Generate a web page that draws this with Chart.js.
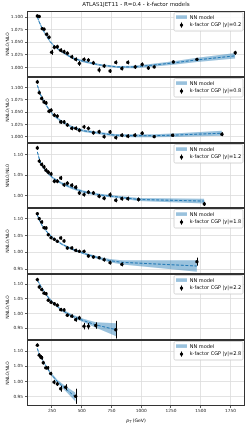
<!DOCTYPE html>
<html>
<head>
<meta charset="utf-8">
<script src="https://cdn.jsdelivr.net/npm/chart.js@4/dist/chart.umd.min.js"></script>
<style>
body { margin: 0; background: #fff; width: 250px; height: 426px; position: relative; overflow: hidden; }
canvas { position: absolute; left: 0; }
</style>
</head>
<body>
<canvas id="c0" width="250" height="77" style="top:0px"></canvas>
<canvas id="c1" width="250" height="66" style="top:77px"></canvas>
<canvas id="c2" width="250" height="65" style="top:143px"></canvas>
<canvas id="c3" width="250" height="66" style="top:208px"></canvas>
<canvas id="c4" width="250" height="66" style="top:274px"></canvas>
<canvas id="c5" width="250" height="86" style="top:340px"></canvas>
<script>
// k-factor CGP points, per rapidity bin
const pt_y02 = [127,143,168,183,205,225,247,270,295,323,351,379,416,449,480,519,556,598,646,688,738,786,837,887,949,1008,1060,1109,1270,1468,1790];
const kf_y02 = [1.102,1.101,1.077,1.076,1.066,1.060,1.030,1.040,1.041,1.034,1.031,1.028,1.021,1.016,1.008,1.016,1.0145,1.009,0.995,1.003,0.993,1.010,0.998,1.010,1.001,1.006,0.999,1.001,1.011,1.016,1.029];
const err_y02 = [0.003,0.003,0.003,0.003,0.003,0.003,0.005,0.004,0.004,0.004,0.004,0.004,0.004,0.004,0.005,0.004,0.004,0.004,0.005,0.004,0.004,0.004,0.004,0.004,0.004,0.004,0.004,0.003,0.003,0.003,0.004];

const pt_y08 = [127,143,163,183,200,225,242,270,295,323,351,379,416,449,480,519,556,598,646,688,738,786,837,887,946,1008,1109,1263,1678];
const kf_y08 = [1.112,1.090,1.078,1.071,1.069,1.052,1.054,1.044,1.042,1.030,1.030,1.024,1.017,1.017,1.013,1.020,1.017,1.008,1.010,1.000,1.0096,0.998,1.003,1.001,1.003,1.007,1.000,1.003,1.005];
const err_y08 = [0.004,0.004,0.004,0.004,0.004,0.004,0.004,0.004,0.004,0.004,0.004,0.004,0.004,0.004,0.004,0.004,0.004,0.004,0.004,0.004,0.004,0.004,0.004,0.004,0.004,0.004,0.003,0.003,0.004];

const pt_y12 = [127,143,163,183,200,219,242,270,295,323,351,379,416,449,480,519,556,598,646,688,738,786,837,887,977,1530];
const kf_y12 = [1.117,1.0845,1.076,1.070,1.062,1.057,1.053,1.035,1.035,1.043,1.026,1.030,1.025,1.020,1.006,1.002,1.008,1.006,0.998,0.993,1.0015,0.988,0.992,0.992,0.990,0.979];
const err_y12 = [0.005,0.005,0.005,0.005,0.005,0.005,0.005,0.005,0.005,0.005,0.005,0.005,0.005,0.005,0.005,0.005,0.005,0.005,0.005,0.005,0.006,0.005,0.005,0.005,0.005,0.005];

const pt_y18 = [127,143,163,183,200,219,242,270,295,323,351,379,416,449,480,519,556,598,646,688,738,837,1468];
const kf_y18 = [1.116,1.101,1.091,1.074,1.073,1.053,1.044,1.039,1.033,1.043,1.034,1.013,1.013,1.006,1.003,1.003,0.989,0.986,0.984,0.978,0.969,0.964,0.972];
const err_y18 = [0.005,0.005,0.005,0.005,0.005,0.005,0.005,0.005,0.005,0.005,0.005,0.005,0.005,0.005,0.005,0.005,0.005,0.005,0.005,0.006,0.006,0.006,0.012];

const pt_y22 = [127,143,163,183,200,219,242,270,295,323,351,379,416,449,480,519,556,618,786];
const kf_y22 = [1.115,1.090,1.081,1.069,1.067,1.045,1.038,1.033,1.028,1.013,1.012,0.994,0.991,0.979,0.985,0.957,0.957,0.959,0.945];
const err_y22 = [0.006,0.006,0.006,0.006,0.006,0.006,0.006,0.006,0.006,0.006,0.006,0.006,0.006,0.007,0.007,0.011,0.011,0.011,0.03];

const pt_y28 = [127,143,155,163,177,197,214,239,267,295,323,365,449];
const kf_y28 = [1.120,1.087,1.081,1.078,1.062,1.045,1.045,1.026,0.998,0.992,0.976,0.981,0.951];
const err_y28 = [0.006,0.006,0.006,0.006,0.006,0.006,0.006,0.006,0.007,0.007,0.01,0.01,0.025];

// NN model central value and half width of the band
const nnPt_y02 = [127,143,165,185,210,235,270,320,380,430,515,650,800,935,1075,1270,1470,1790];
const nn_y02 = [1.100,1.090,1.079,1.070,1.060,1.051,1.042,1.033,1.024,1.018,1.012,1.005,1.001,1.001,1.004,1.009,1.015,1.023];
const nnErr_y02 = [0.003,0.003,0.0025,0.0025,0.002,0.002,0.002,0.002,0.002,0.002,0.002,0.002,0.002,0.0025,0.003,0.0035,0.004,0.0055];

const nnPt_y08 = [127,150,175,218,262,330,415,514,655,780,935,1103,1263,1678];
const nn_y08 = [1.105,1.088,1.075,1.058,1.044,1.031,1.020,1.012,1.007,1.003,1.002,1.002,1.003,1.007];
const nnErr_y08 = [0.003,0.003,0.003,0.0025,0.0025,0.0025,0.0025,0.0025,0.0025,0.0025,0.003,0.003,0.0035,0.005];

const nnPt_y12 = [127,150,175,218,262,330,415,514,655,780,977,1530];
const nn_y12 = [1.107,1.083,1.069,1.054,1.042,1.030,1.019,1.009,1.001,0.997,0.990,0.986];
const nnErr_y12 = [0.004,0.003,0.003,0.003,0.003,0.003,0.003,0.003,0.003,0.003,0.0035,0.006];

const nnPt_y18 = [127,150,175,218,262,330,415,514,655,735,839,1468];
const nn_y18 = [1.112,1.092,1.075,1.057,1.042,1.025,1.010,0.997,0.982,0.975,0.970,0.959];
const nnErr_y18 = [0.004,0.003,0.003,0.003,0.003,0.003,0.003,0.003,0.004,0.005,0.0065,0.0175];

const nnPt_y22 = [127,150,175,218,262,330,415,514,620,789];
const nn_y22 = [1.113,1.097,1.080,1.055,1.035,1.012,0.992,0.976,0.961,0.945];
const nnErr_y22 = [0.004,0.004,0.004,0.004,0.004,0.004,0.005,0.006,0.009,0.022];

const nnPt_y28 = [127,143,163,197,239,295,365,449];
const nn_y28 = [1.109,1.089,1.076,1.053,1.026,1.000,0.976,0.948];
const nnErr_y28 = [0.004,0.004,0.004,0.004,0.005,0.006,0.008,0.015];

// axes
const rapLabels = ['0.2', '0.8', '1.2', '1.8', '2.2', '2.8'];
const xTicks = [250, 500, 750, 1000, 1250, 1500, 1750];
const yTicks_fine = [1.000, 1.025, 1.050, 1.075, 1.100];
const yTicks_y12 = [1.00, 1.05, 1.10];
const yTicks_wide = [0.95, 1.00, 1.05, 1.10];
const yMin = [0.981, 0.987, 0.969, 0.935, 0.910, 0.919];
const yMax = [1.112, 1.122, 1.129, 1.133, 1.134, 1.137];

const panels = [
    { pt: pt_y02, kf: kf_y02, err: err_y02, nnPt: nnPt_y02, nn: nn_y02, nnErr: nnErr_y02, yTicks: yTicks_fine, digits: 3 },
    { pt: pt_y08, kf: kf_y08, err: err_y08, nnPt: nnPt_y08, nn: nn_y08, nnErr: nnErr_y08, yTicks: yTicks_fine, digits: 3 },
    { pt: pt_y12, kf: kf_y12, err: err_y12, nnPt: nnPt_y12, nn: nn_y12, nnErr: nnErr_y12, yTicks: yTicks_y12, digits: 2 },
    { pt: pt_y18, kf: kf_y18, err: err_y18, nnPt: nnPt_y18, nn: nn_y18, nnErr: nnErr_y18, yTicks: yTicks_wide, digits: 2 },
    { pt: pt_y22, kf: kf_y22, err: err_y22, nnPt: nnPt_y22, nn: nn_y22, nnErr: nnErr_y22, yTicks: yTicks_wide, digits: 2 },
    { pt: pt_y28, kf: kf_y28, err: err_y28, nnPt: nnPt_y28, nn: nn_y28, nnErr: nnErr_y28, yTicks: yTicks_wide, digits: 2 }
];

const FONT = '"DejaVu Sans", sans-serif';
const bandColor = 'rgba(31,119,180,0.45)';

// box around the axes, like matplotlib spines
const frame = {
    id: 'frame',
    afterDraw(chart) {
        let a = chart.chartArea, ctx = chart.ctx;
        ctx.save();
        ctx.strokeStyle = '#333';
        ctx.lineWidth = 1;
        ctx.strokeRect(a.left + 0.5, a.top + 0.5, a.width - 1, a.height - 1);
        ctx.restore();
    }
};

// vertical error bars on the k-factor points
const errorBars = {
    id: 'errorBars',
    afterDatasetsDraw(chart) {
        let ds = chart.data.datasets[0];
        let xs = chart.scales.x, ys = chart.scales.y, ctx = chart.ctx;
        ctx.save();
        ctx.strokeStyle = '#000';
        ctx.lineWidth = 1;
        ds.data.forEach((p, k) => {
            let e = ds.errors[k];
            let px = Math.round(xs.getPixelForValue(p.x)) + 0.5;
            ctx.beginPath();
            ctx.moveTo(px, ys.getPixelForValue(p.y - e));
            ctx.lineTo(px, ys.getPixelForValue(p.y + e));
            ctx.stroke();
        });
        ctx.restore();
    }
};

// matplotlib style legend inside the axes, top right
const panelLegend = {
    id: 'panelLegend',
    afterDraw(chart, args, opts) {
        let a = chart.chartArea, ctx = chart.ctx;
        let w = 69, h = 18.5;
        let x0 = a.right - 2 - w, y0 = a.top + 1.5;
        ctx.save();
        ctx.fillStyle = 'rgba(255,255,255,0.85)';
        ctx.strokeStyle = '#cccccc';
        ctx.lineWidth = 0.8;
        ctx.beginPath();
        ctx.roundRect(x0, y0, w, h, 1.5);
        ctx.fill();
        ctx.stroke();

        ctx.fillStyle = bandColor;
        ctx.fillRect(x0 + 2, y0 + 2.8, 11, 3.6);

        ctx.fillStyle = '#000';
        ctx.font = '5px ' + FONT;
        ctx.textBaseline = 'middle';
        ctx.fillText('NN model', x0 + 15.7, y0 + 4.8);
        ctx.fillText('k-factor CGP |y|=' + opts.rap, x0 + 15.7, y0 + 12.6);

        ctx.beginPath();
        ctx.arc(x0 + 7.5, y0 + 12.6, 1.7, 0, Math.PI * 2);
        ctx.fill();
        ctx.strokeStyle = '#000';
        ctx.lineWidth = 1;
        ctx.beginPath();
        ctx.moveTo(x0 + 7.5, y0 + 10);
        ctx.lineTo(x0 + 7.5, y0 + 15.2);
        ctx.stroke();
        ctx.restore();
    }
};

// x axis label with subscript, only on the bottom panel
const xLabel = {
    id: 'xLabel',
    afterDraw(chart, args, opts) {
        if (!opts.show) return;
        let a = chart.chartArea, ctx = chart.ctx;
        let cx = (a.left + a.right) / 2, y = 81;
        ctx.save();
        ctx.fillStyle = '#000';
        ctx.textBaseline = 'middle';
        ctx.font = 'italic 4.6px ' + FONT;
        let w1 = ctx.measureText('p').width;
        ctx.font = 'italic 3.3px ' + FONT;
        let w2 = ctx.measureText('T').width;
        ctx.font = '4.6px ' + FONT;
        let w3 = ctx.measureText(' (GeV)').width;
        let x = cx - (w1 + w2 + w3) / 2;
        ctx.font = 'italic 4.6px ' + FONT;
        ctx.fillText('p', x, y);
        ctx.font = 'italic 3.3px ' + FONT;
        ctx.fillText('T', x + w1, y + 1.3);
        ctx.font = '4.6px ' + FONT;
        ctx.fillText(' (GeV)', x + w1 + w2, y);
        ctx.restore();
    }
};

function makePanel(i) {
    let p = panels[i];
    let first = i === 0, last = i === panels.length - 1;

    let points = p.pt.map((x, k) => ({ x: x, y: p.kf[k] }));
    let mid = p.nnPt.map((x, k) => ({ x: x, y: p.nn[k] }));
    let lo = p.nnPt.map((x, k) => ({ x: x, y: p.nn[k] - p.nnErr[k] }));
    let hi = p.nnPt.map((x, k) => ({ x: x, y: p.nn[k] + p.nnErr[k] }));

    new Chart(document.getElementById('c' + i), {
        type: 'line',
        data: {
            datasets: [
                { data: points, errors: p.err, showLine: false, pointRadius: 1.7, pointBorderWidth: 0,
                  pointBackgroundColor: '#000', order: 0 },
                { data: mid, borderColor: '#1f77b4', borderWidth: 1, borderDash: [3, 1.6],
                  pointRadius: 0, fill: false, order: 1 },
                { data: lo, borderWidth: 0, pointRadius: 0, fill: false, order: 2 },
                { data: hi, borderWidth: 0, pointRadius: 0, fill: 2, backgroundColor: bandColor, order: 3 }
            ]
        },
        options: {
            responsive: false,
            animation: false,
            devicePixelRatio: 1,
            layout: { padding: { top: 0, right: 5, left: 0, bottom: 0 }, autoPadding: false },
            plugins: {
                legend: { display: false },
                tooltip: { enabled: false },
                title: {
                    display: first,
                    fullSize: false,
                    text: 'ATLAS1JET11 - R=0.4 - k-factor models',
                    color: '#111',
                    font: { family: FONT, size: 5.5, weight: 'normal' },
                    padding: { top: 1.5, bottom: 2.9 }
                },
                panelLegend: { rap: rapLabels[i] },
                xLabel: { show: last }
            },
            scales: {
                x: {
                    type: 'linear',
                    min: 40,
                    max: 1872,
                    afterBuildTicks: s => { s.ticks = xTicks.map(v => ({ value: v })); },
                    afterFit: s => {
                        s.height = last ? 20 : 0;
                        s.paddingLeft = 0; s.paddingRight = 0;
                    },
                    border: { display: false },
                    grid: { color: '#dcdcdc', lineWidth: 0.8, drawTicks: last, tickLength: 2, tickColor: '#333', tickWidth: 0.8 },
                    ticks: { display: last, autoSkip: false, maxRotation: 0, padding: 0.5, color: '#222',
                             font: { family: FONT, size: 4.3 }, callback: v => String(v) }
                },
                y: {
                    min: yMin[i],
                    max: yMax[i],
                    afterBuildTicks: s => { s.ticks = p.yTicks.map(v => ({ value: v })); },
                    afterFit: s => {
                        s.width = 27;
                        s.paddingTop = 0; s.paddingBottom = 0;
                    },
                    border: { display: false },
                    grid: { color: '#dcdcdc', lineWidth: 0.8, tickLength: 2, tickColor: '#333', tickWidth: 0.8 },
                    ticks: { padding: 2, color: '#222', font: { family: FONT, size: 4.3 },
                             callback: v => v.toFixed(p.digits) },
                    title: { display: true, text: 'NNLO/NLO', color: '#111', padding: { top: 4.8, bottom: 0 },
                             font: { family: FONT, size: 4.5 } }
                }
            }
        },
        plugins: [frame, errorBars, panelLegend, xLabel]
    });
}

for (let i = 0; i < panels.length; i++) {
    makePanel(i);
}
</script>
</body>
</html>
